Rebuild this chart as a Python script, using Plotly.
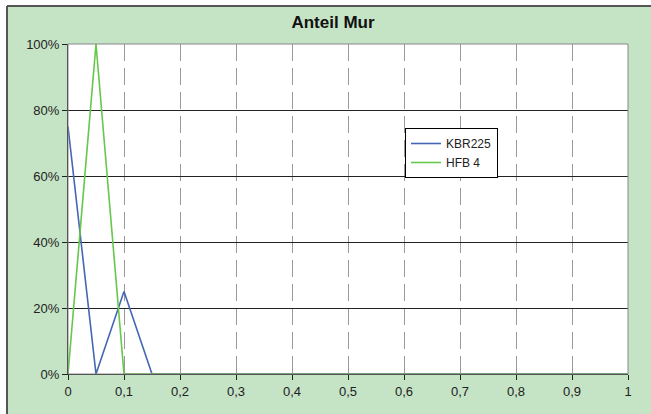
import plotly.graph_objects as go

x_values = [round(i * 0.05, 2) for i in range(21)]
kbr225 = [0.75, 0.0, 0.25, 0.0] + [0.0] * 17
hfb4 = [0.0, 1.0, 0.0] + [0.0] * 18
series_names = ["KBR225", "HFB 4"]
title_text = "Anteil Mur"

W, H = 651, 414
L, R, T, B = 68, 628, 44, 374
pw, ph = R - L, B - T

def px(xp):
    return (xp - L) / pw

def py(yp):
    return (B - yp) / ph

fig = go.Figure()
fig.add_trace(go.Scatter(x=x_values, y=kbr225, mode="lines", name=series_names[0],
                         line=dict(color="#4466B4", width=1.6)))
fig.add_trace(go.Scatter(x=x_values, y=hfb4, mode="lines", name=series_names[1],
                         line=dict(color="#66C84A", width=1.6)))

shapes = [
    dict(type="rect", xref="paper", yref="paper", x0=px(-5), x1=px(7), y0=py(430), y1=py(-5),
         fillcolor="white", line=dict(width=0), layer="below"),
    dict(type="rect", xref="paper", yref="paper", x0=px(-5), x1=px(660), y0=py(6), y1=py(-5),
         fillcolor="white", line=dict(width=0), layer="below"),
    dict(type="line", xref="paper", yref="paper", x0=px(7), x1=px(660), y0=py(6), y1=py(6),
         line=dict(color="#555555", width=2), layer="below"),
    dict(type="line", xref="paper", yref="paper", x0=px(7), x1=px(7), y0=py(6), y1=py(430),
         line=dict(color="#555555", width=2), layer="below"),
    dict(type="rect", xref="paper", yref="paper", x0=0, x1=1, y0=0, y1=1,
         line=dict(color="#888888", width=1), layer="above"),
]

fig.update_layout(
    width=W, height=H,
    margin=dict(l=L, r=W - R, t=T, b=H - B),
    paper_bgcolor="#C5E3C5",
    plot_bgcolor="white",
    separators=",.",
    font=dict(family="Liberation Sans, Arial, sans-serif", size=13, color="#222222"),
    title=dict(text="<b>" + title_text + "</b>", x=px(333), xref="paper", xanchor="center",
               y=1 - 22 / H, yref="container", yanchor="middle",
               font=dict(size=17, color="#111111")),
    shapes=shapes,
    showlegend=True,
    legend=dict(x=px(405), y=py(128), xanchor="left", yanchor="top",
                bgcolor="white", bordercolor="black", borderwidth=1,
                font=dict(size=12, color="#222222"), tracegroupgap=0,
                itemwidth=30),
    xaxis=dict(range=[0, 1], dtick=0.1, tick0=0, showgrid=True, gridcolor="#999999",
               griddash="17px,7px", gridwidth=1, zeroline=False,
               showline=True, linecolor="#222222", linewidth=1,
               ticks="outside", ticklen=5, tickcolor="#222222"),
    yaxis=dict(range=[0, 1], dtick=0.2, tickformat=".0%", showgrid=True, gridcolor="#222222",
               gridwidth=1, zeroline=False,
               showline=True, linecolor="#222222", linewidth=1,
               ticks="outside", ticklen=5, tickcolor="#222222"),
)

fig.write_html("out.html", config={"displayModeBar": False},
               post_script="document.body.style.margin='0';document.body.style.padding='0';")
